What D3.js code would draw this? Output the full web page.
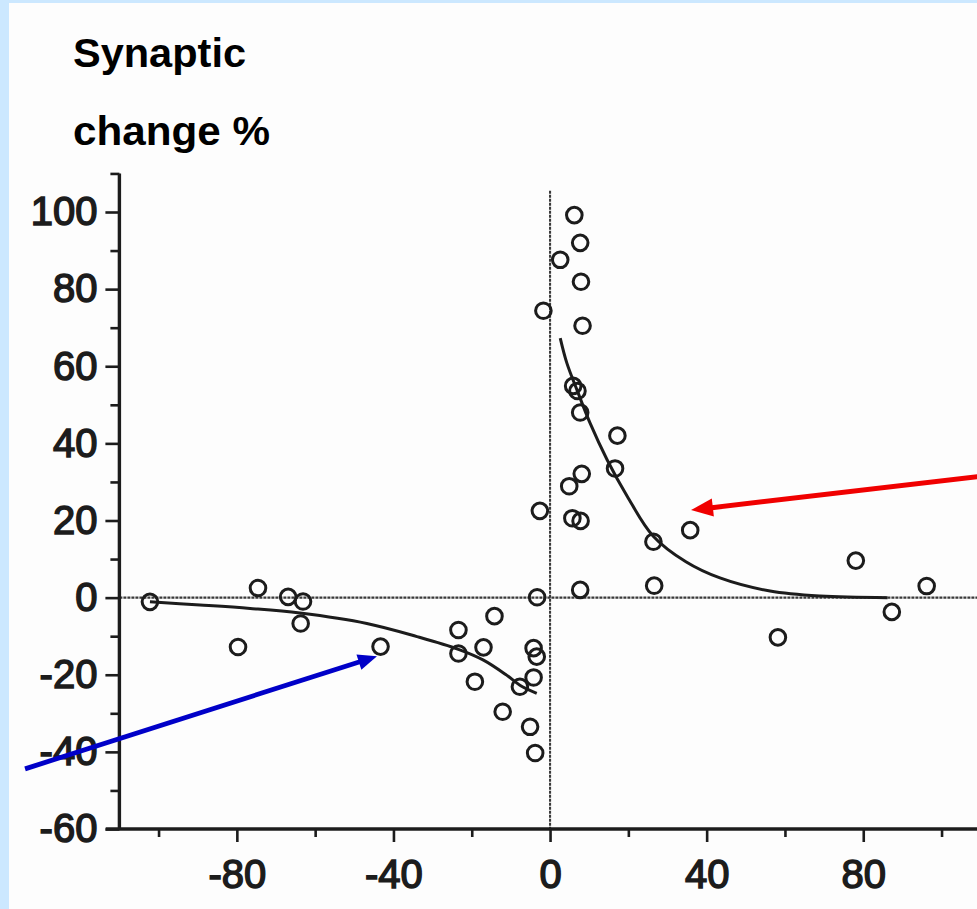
<!DOCTYPE html>
<html>
<head>
<meta charset="utf-8">
<script src="https://cdn.jsdelivr.net/npm/d3@7"></script>
<style>
  html, body { margin: 0; padding: 0; background: #cce8ff; }
  svg { display: block; }
</style>
</head>
<body>
<svg id="chart" width="977" height="909"></svg>
<script>
// Scatter of synaptic change (%) against spike timing, with fitted decay curves
const pointX = [-102.2, -79.7, -74.6, -66.9, -63.1, -63.7, -43.3, -23.4, -23.4, -17.0, -14.2, -19.2,
  -12.1, -7.7, -4.2, -3.4, -4.2, -5.1, -3.8, -3.3, -2.6, -1.7, 2.6, 6.2, 7.7, 7.9, 8.3, 5.9, 7.0,
  7.7, 17.2, 8.1, 4.9, 16.6, 5.7, 7.8, 7.7, 26.4, 26.6, 35.8, 58.2, 78.1, 87.3, 96.2];
const pointY = [-1.1, -12.8, 2.5, 0.2, -1.0, -6.7, -12.7, -8.4, -14.5, -12.9, -4.8, -21.8,
  -29.6, -23.1, -13.1, -15.3, -20.7, -33.5, -40.3, 0.1, 22.5, 74.4, 87.6, 99.2, 92.0, 81.9, 70.5, 54.9, 53.6,
  48.0, 42.0, 32.1, 28.9, 33.5, 20.6, 19.9, 2.0, 14.5, 3.1, 17.5, -10.3, 9.6, -3.7, 3.0];

// Fitted curve for potentiation (positive delay)
const ltpX = [2.6, 4.3, 6.9, 10.2, 14.6, 19.7, 26.3, 34.7, 43.4, 56.2, 69.0, 86.2];
const ltpY = [67.3, 60.8, 53.8, 45.3, 35.7, 26.3, 16.0, 9.3, 5.1, 1.7, 0.4, 0.0];

// Fitted curve for depression (negative delay)
const ltdX = [-102.2, -89.4, -76.6, -63.9, -46.8, -34.0, -23.4, -17.0, -11.1, -7.7, -3.4];
const ltdY = [-1.1, -1.9, -2.8, -4.0, -6.7, -10.1, -13.4, -16.2, -20.1, -22.7, -24.8];

// Axis ticks
const yMajorTicks = [-60, -40, -20, 0, 20, 40, 60, 80, 100];
const yMinorTicks = [-50, -30, -10, 10, 30, 50, 70, 90, 110];
const xMajorTicks = [-80, -40, 0, 40, 80];
const xMinorTicks = [-100, -60, -20, 20, 60, 100];

const titleLines = ["Synaptic", "change %"];

// Pointer arrows: [tailX, tailY, tipX, tipY] in data units
const arrowRed = [110.5, 31.5, 36.0, 22.7];
const arrowBlue = [-134.1, -44.4, -44.2, -15.2];

const svg = d3.select("#chart");

// white page with the light-blue frame strips on left and top
svg.append("rect").attr("x", 9).attr("y", 3).attr("width", 968).attr("height", 906).attr("fill", "#fdfdfd");

const x = d3.scaleLinear().domain([-110, 110]).range([119.4, 980.7]);
const y = d3.scaleLinear().domain([-60, 100]).range([829, 212]);

const ink = "#1c1c1c";

// zero reference lines
svg.append("line")
  .attr("x1", x(-110)).attr("x2", 977)
  .attr("y1", y(0)).attr("y2", y(0))
  .attr("stroke", "#3a3a3a").attr("stroke-width", 2.4).attr("stroke-dasharray", "3,1");
svg.append("line")
  .attr("x1", x(0)).attr("x2", x(0))
  .attr("y1", y(105.5)).attr("y2", y(-60))
  .attr("stroke", "#3a3a3a").attr("stroke-width", 2.1).attr("stroke-dasharray", "3,1");

// Y axis
const yMajor = d3.axisLeft(y).tickValues(yMajorTicks).tickSize(14).tickSizeOuter(0).tickPadding(8)
  .tickFormat(d => String(d));
const yMinor = d3.axisLeft(y).tickValues(yMinorTicks).tickSize(9).tickSizeOuter(0).tickFormat("");
const gy = svg.append("g").attr("transform", `translate(${x(-110)},0)`);
gy.call(yMinor);
gy.append("g").call(yMajor);
gy.selectAll(".domain").remove();
svg.append("line")
  .attr("x1", x(-110)).attr("x2", x(-110))
  .attr("y1", y(110)).attr("y2", y(-60))
  .attr("stroke", ink).attr("stroke-width", 3.4);

// X axis
const xMajor = d3.axisBottom(x).tickValues(xMajorTicks).tickSize(13).tickSizeOuter(0).tickPadding(18)
  .tickFormat(d => String(d));
const xMinor = d3.axisBottom(x).tickValues(xMinorTicks).tickSize(8).tickSizeOuter(0).tickFormat("");
const gx = svg.append("g").attr("transform", `translate(0,${y(-60)})`);
gx.call(xMinor);
gx.append("g").call(xMajor);
gx.selectAll(".domain").remove();
svg.append("line")
  .attr("x1", x(-113.5)).attr("x2", 977)
  .attr("y1", y(-60)).attr("y2", y(-60))
  .attr("stroke", ink).attr("stroke-width", 3.4);

svg.selectAll(".tick line").attr("stroke", ink).attr("stroke-width", 2.6);
svg.selectAll(".tick text")
  .attr("fill", ink)
  .attr("stroke", ink).attr("stroke-width", 1.5)
  .style("font-family", "'Liberation Sans', Arial, sans-serif")
  .style("font-size", "40px");

// fitted curves
const line = d3.line().x(d => x(d[0])).y(d => y(d[1])).curve(d3.curveCatmullRom.alpha(0.5));
svg.append("path")
  .datum(ltpX.map((v, i) => [v, ltpY[i]]))
  .attr("d", line).attr("fill", "none").attr("stroke", ink).attr("stroke-width", 3);
svg.append("path")
  .datum(ltdX.map((v, i) => [v, ltdY[i]]))
  .attr("d", line).attr("fill", "none").attr("stroke", ink).attr("stroke-width", 3);

// data points
svg.append("g").selectAll("circle")
  .data(pointX.map((v, i) => [v, pointY[i]]))
  .join("circle")
  .attr("cx", d => x(d[0])).attr("cy", d => y(d[1]))
  .attr("r", 7.8).attr("fill", "none")
  .attr("stroke", ink).attr("stroke-width", 3);

// axis title
svg.append("g").selectAll("text")
  .data(titleLines)
  .join("text")
  .attr("x", 73).attr("y", (d, i) => i === 0 ? 67 : 145)
  .attr("textLength", (d, i) => i === 0 ? 173 : 197)
  .attr("lengthAdjust", "spacingAndGlyphs")
  .attr("fill", "#000")
  .style("font-family", "'Liberation Sans', Arial, sans-serif")
  .style("font-weight", "bold")
  .style("font-size", "40px")
  .text(d => d);

// pointer arrows
function drawArrow(a, color, width, headLen, headWidth) {
  const x0 = x(a[0]), y0 = y(a[1]), x1 = x(a[2]), y1 = y(a[3]);
  const ang = Math.atan2(y1 - y0, x1 - x0);
  const bx = x1 - headLen * Math.cos(ang), by = y1 - headLen * Math.sin(ang);
  svg.append("line")
    .attr("x1", x0).attr("y1", y0).attr("x2", bx + Math.cos(ang)).attr("y2", by + Math.sin(ang))
    .attr("stroke", color).attr("stroke-width", width);
  const nx = -Math.sin(ang) * headWidth / 2, ny = Math.cos(ang) * headWidth / 2;
  svg.append("path")
    .attr("d", `M${x1},${y1}L${bx + nx},${by + ny}L${bx - nx},${by - ny}Z`)
    .attr("fill", color);
}
drawArrow(arrowRed, "#f00000", 5, 22, 18);
drawArrow(arrowBlue, "#0000c8", 4.8, 19, 16);
</script>
</body>
</html>
